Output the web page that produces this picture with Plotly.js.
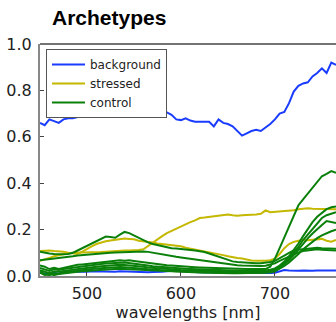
<!DOCTYPE html>
<html>
<head>
<meta charset="utf-8">
<script src="https://cdn.plot.ly/plotly-3.0.1.min.js"></script>
<style>html,body{margin:0;padding:0;background:#fff;overflow:hidden;}#chart{width:336px;height:322px;}</style>
</head>
<body>
<div id="chart"></div>
<script>
// wavelengths [nm]
var wavelengths = [
  450,455,460,465,470,475,480,485,
  490,495,500,505,510,515,520,525,
  530,535,540,545,550,555,560,565,
  570,575,580,585,590,595,600,605,
  610,615,620,625,630,635,640,645,
  650,655,660,665,670,675,680,685,
  690,695,700,705,710,715,720,725,
  730,735,740,745,750,755,760,765];

var seriesNames = ["background", "stressed", "control"];

// background archetypes
var backgroundHigh = [
  0.66,0.65,0.675,0.668,0.66,0.675,0.68,0.68,
  0.685,0.695,0.69,0.70,0.71,0.715,0.72,0.72,
  0.725,0.725,0.72,0.72,0.725,0.72,0.72,0.715,
  0.715,0.71,0.71,0.705,0.695,0.675,0.672,0.68,
  0.67,0.665,0.665,0.665,0.665,0.645,0.675,0.66,
  0.655,0.645,0.625,0.605,0.615,0.625,0.63,0.625,
  0.64,0.655,0.675,0.70,0.707,0.745,0.795,0.82,
  0.83,0.835,0.86,0.875,0.895,0.875,0.92,0.91];
var backgroundLow = [
  0.015,0.01,0.006,0.014,0.01,0.018,0.016,0.018,
  0.017,0.019,0.018,0.02,0.019,0.018,0.02,0.019,
  0.018,0.02,0.019,0.018,0.017,0.018,0.017,0.016,
  0.017,0.016,0.018,0.02,0.022,0.024,0.022,0.02,
  0.018,0.017,0.016,0.016,0.015,0.016,0.015,0.014,
  0.015,0.014,0.015,0.014,0.013,0.014,0.013,0.013,
  0.014,0.013,0.014,0.02,0.026,0.024,0.022,0.023,
  0.024,0.022,0.023,0.024,0.025,0.023,0.024,0.024];

// stressed archetypes
var stressedA = [
  0.108,0.11,0.11,0.108,0.107,0.105,0.1,0.097,
  0.095,0.105,0.118,0.128,0.138,0.145,0.15,0.153,
  0.157,0.16,0.162,0.16,0.158,0.152,0.15,0.146,
  0.144,0.14,0.138,0.137,0.135,0.133,0.128,0.122,
  0.118,0.114,0.112,0.108,0.105,0.1,0.095,0.09,
  0.085,0.08,0.078,0.075,0.07,0.067,0.066,0.065,
  0.066,0.068,0.075,0.095,0.12,0.138,0.147,0.152,
  0.155,0.154,0.156,0.158,0.16,0.152,0.148,0.155];
var stressedB = [
  0.065,0.07,0.078,0.085,0.09,0.095,0.098,0.1,
  0.1,0.1,0.1,0.1,0.102,0.103,0.105,0.107,
  0.108,0.108,0.11,0.11,0.11,0.112,0.115,0.13,
  0.145,0.16,0.172,0.185,0.195,0.205,0.213,0.225,
  0.232,0.24,0.25,0.252,0.255,0.258,0.26,0.262,
  0.265,0.262,0.26,0.262,0.262,0.265,0.265,0.268,
  0.283,0.275,0.277,0.278,0.28,0.28,0.283,0.288,
  0.29,0.292,0.29,0.29,0.29,0.288,0.29,0.288];

// control archetypes
var controlA = [
  0.105,0.1,0.097,0.095,0.093,0.094,0.095,0.1,
  0.11,0.12,0.13,0.138,0.147,0.158,0.17,0.168,
  0.165,0.178,0.19,0.185,0.175,0.165,0.153,0.145,
  0.138,0.133,0.128,0.124,0.12,0.118,0.117,0.115,
  0.112,0.11,0.108,0.103,0.097,0.09,0.083,0.075,
  0.068,0.063,0.06,0.058,0.056,0.055,0.055,0.055,
  0.056,0.06,0.065,0.075,0.088,0.1,0.11,0.113,
  0.115,0.117,0.12,0.122,0.12,0.118,0.118,0.117];
var controlB = [
  0.068,0.07,0.072,0.075,0.078,0.08,0.083,0.085,
  0.088,0.09,0.093,0.095,0.097,0.098,0.1,0.1,
  0.101,0.102,0.103,0.103,0.104,0.105,0.106,0.104,
  0.1,0.097,0.093,0.09,0.087,0.083,0.08,0.077,
  0.074,0.071,0.068,0.065,0.062,0.058,0.055,0.052,
  0.05,0.048,0.046,0.045,0.044,0.043,0.043,0.043,
  0.044,0.048,0.055,0.065,0.075,0.085,0.095,0.102,
  0.108,0.11,0.113,0.115,0.113,0.112,0.112,0.11];
var controlC = [
  0.045,0.04,0.03,0.035,0.03,0.035,0.04,0.045,
  0.048,0.05,0.052,0.055,0.058,0.06,0.062,0.063,
  0.065,0.068,0.066,0.068,0.065,0.062,0.058,0.055,
  0.052,0.05,0.048,0.046,0.045,0.043,0.042,0.04,
  0.04,0.038,0.037,0.036,0.035,0.034,0.034,0.033,
  0.032,0.031,0.031,0.03,0.03,0.03,0.03,0.03,
  0.03,0.04,0.075,0.12,0.165,0.21,0.26,0.305,
  0.33,0.355,0.38,0.405,0.43,0.44,0.452,0.445];
var controlD = [
  0.035,0.03,0.022,0.03,0.026,0.03,0.033,0.036,
  0.04,0.042,0.045,0.047,0.05,0.052,0.054,0.056,
  0.058,0.057,0.058,0.056,0.054,0.051,0.048,0.045,
  0.042,0.04,0.038,0.036,0.034,0.033,0.032,0.031,
  0.03,0.029,0.028,0.028,0.027,0.026,0.026,0.025,
  0.025,0.024,0.024,0.024,0.023,0.023,0.023,0.023,
  0.024,0.027,0.033,0.045,0.062,0.085,0.11,0.14,
  0.172,0.205,0.232,0.255,0.273,0.288,0.296,0.3];
var controlE = [
  0.025,0.018,0.012,0.02,0.018,0.022,0.025,0.028,
  0.031,0.033,0.036,0.038,0.04,0.042,0.044,0.046,
  0.047,0.048,0.047,0.046,0.044,0.042,0.04,0.037,
  0.035,0.033,0.031,0.03,0.028,0.027,0.026,0.025,
  0.024,0.023,0.022,0.022,0.021,0.021,0.02,0.02,
  0.019,0.019,0.019,0.018,0.018,0.018,0.018,0.018,
  0.019,0.022,0.028,0.04,0.055,0.075,0.098,0.125,
  0.155,0.18,0.205,0.228,0.25,0.262,0.27,0.275];
var controlF = [
  0.02,0.008,0.004,0.012,0.01,0.015,0.018,0.021,
  0.024,0.026,0.028,0.03,0.032,0.034,0.036,0.037,
  0.038,0.039,0.038,0.037,0.035,0.033,0.031,0.029,
  0.027,0.026,0.024,0.023,0.022,0.021,0.02,0.019,
  0.018,0.018,0.017,0.017,0.016,0.016,0.016,0.015,
  0.015,0.015,0.015,0.015,0.014,0.014,0.014,0.014,
  0.015,0.018,0.024,0.035,0.05,0.068,0.09,0.115,
  0.14,0.162,0.183,0.203,0.22,0.237,0.232,0.228];
var controlG = [
  0.015,0.005,0.008,0.004,0.009,0.012,0.014,0.016,
  0.018,0.02,0.022,0.023,0.025,0.026,0.028,0.029,
  0.03,0.031,0.03,0.029,0.028,0.026,0.025,0.023,
  0.022,0.021,0.02,0.019,0.018,0.017,0.016,0.016,
  0.015,0.015,0.014,0.014,0.014,0.013,0.013,0.013,
  0.013,0.012,0.012,0.012,0.012,0.012,0.012,0.012,
  0.013,0.015,0.02,0.03,0.043,0.058,0.075,0.095,
  0.115,0.132,0.148,0.163,0.175,0.185,0.193,0.2];

var groups = [
  {name: seriesNames[0], color: "#1a3cff", series: [backgroundHigh, backgroundLow]},
  {name: seriesNames[1], color: "#c4b800", series: [stressedA, stressedB]},
  {name: seriesNames[2], color: "#0a800a", series: [controlA, controlB, controlC, controlD, controlE, controlF, controlG]}
];

var traces = [];
groups.forEach(function (g) {
  g.series.forEach(function (s, i) {
    traces.push({
      type: "scatter", mode: "lines", x: wavelengths, y: s,
      name: g.name, legendgroup: g.name, showlegend: i === 0,
      line: {color: g.color, width: 2}, hoverinfo: "skip"
    });
  });
});

var tickFont = {family: "DejaVu Sans", size: 16, color: "#222"};
var layout = {
  width: 336, height: 322,
  margin: {l: 40, r: 0, t: 44, b: 46, pad: 0},
  paper_bgcolor: "#fff", plot_bgcolor: "#fff",
  showlegend: true,
  title: {text: "<b>Archetypes</b>", font: {family: "Liberation Sans", size: 21, color: "#000"},
          x: 52/336, xanchor: "left", xref: "container", y: 1 - 18/322, yanchor: "middle", yref: "container"},
  xaxis: {range: [450, 765], tick0: 500, dtick: 100, ticks: "inside", ticklen: 4, tickcolor: "#444",
          showline: true, linecolor: "#888", linewidth: 2, zeroline: false, showgrid: false,
          tickfont: tickFont, ticklabelstandoff: 2,
          title: {text: "wavelengths [nm]", font: tickFont, standoff: 2}},
  yaxis: {range: [0, 1.0], tick0: 0, dtick: 0.2, tickformat: ".1f", ticks: "inside", ticklen: 4, tickcolor: "#444",
          showline: true, linecolor: "#888", linewidth: 2, zeroline: false, showgrid: false,
          tickfont: tickFont, ticklabelstandoff: 3},
  legend: {x: 6/296, y: (276-49)/232, xanchor: "left", yanchor: "top", bgcolor: "#fff",
           bordercolor: "#555", borderwidth: 1, tracegroupgap: 0, itemwidth: 33,
           font: {family: "DejaVu Sans", size: 12, color: "#222"}},
  shapes: [{type: "line", xref: "paper", yref: "paper", x0: 0, x1: 1, y0: 1, y1: 1,
            line: {color: "#444", width: 1.5}}]
};

Plotly.newPlot("chart", traces, layout, {displayModeBar: false, staticPlot: true});
</script>
</body>
</html>
